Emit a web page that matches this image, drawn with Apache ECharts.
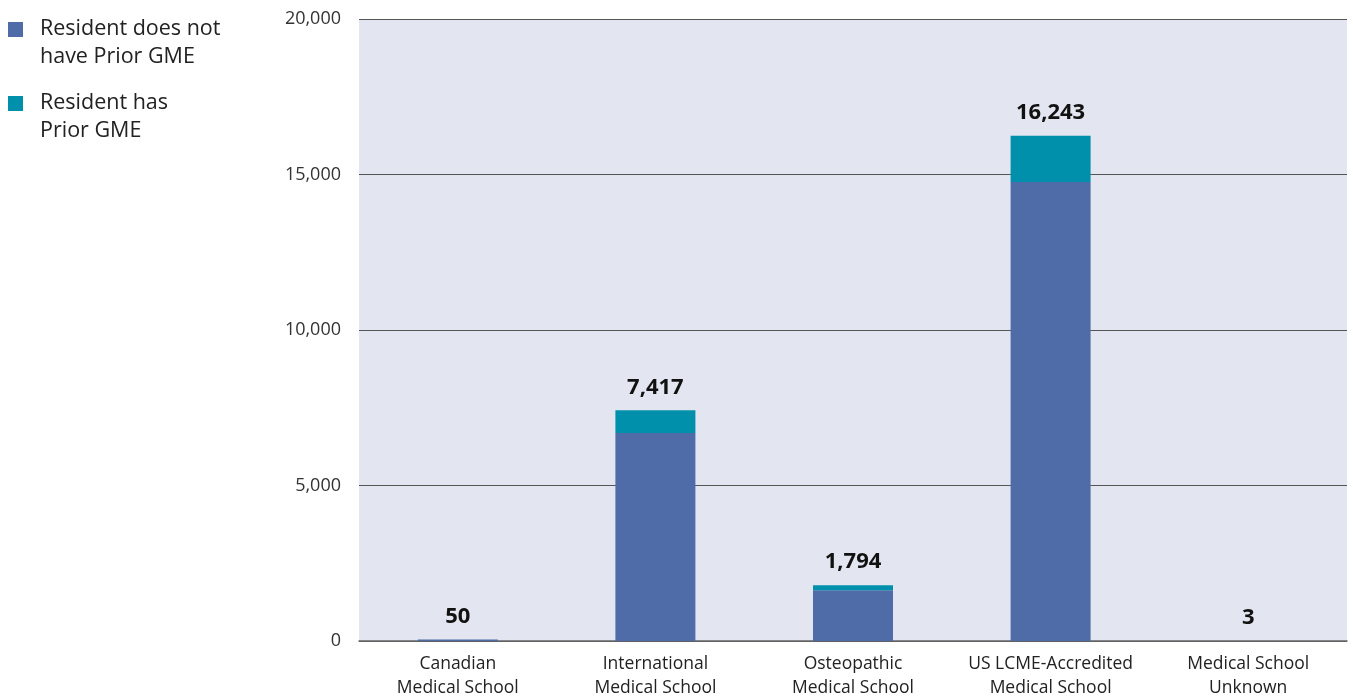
<!DOCTYPE html>
<html><head><meta charset="utf-8">
<script src="https://cdn.jsdelivr.net/npm/echarts@6/dist/echarts.min.js"></script>
<style>html,body{margin:0;padding:0;background:#fff}#c{width:1353px;height:698px}</style>
</head><body><div id="c"></div>
<script>
const categories = ['Canadian\nMedical School','International\nMedical School','Osteopathic\nMedical School','US LCME-Accredited\nMedical School','Medical School\nUnknown'];
const seriesNames = ['Resident does not have Prior GME', 'Resident has Prior GME'];
const legendLabels = ['Resident does not\nhave Prior GME', 'Resident has\nPrior GME'];
const colors = ['#4f6ca8', '#0090ab'];
const noPriorGME = [50, 6690, 1634, 14760, 3];
const hasPriorGME = [0, 727, 160, 1483, 0];
const totals = [50, 7417, 1794, 16243, 3];
const yTicks = [0, 5000, 10000, 15000, 20000];
const FONT = '"Open Sans", Roboto, "Liberation Sans", sans-serif';

const legendGraphic = [];
legendLabels.forEach((t, i) => {
  const y0 = 22 + i * 74;
  legendGraphic.push({type: 'rect', left: 8, top: y0, shape: {width: 15, height: 15}, style: {fill: colors[i]}});
  legendGraphic.push({type: 'text', left: 40, top: y0 - 7, style: {text: t, fontSize: 21.5, lineHeight: 28, fill: '#222', fontFamily: FONT}});
});

const chart = echarts.init(document.getElementById('c'));
chart.setOption({
  animation: false,
  textStyle: {fontFamily: FONT},
  graphic: legendGraphic,
  grid: {left: 359, right: 6, top: 19, bottom: 57, backgroundColor: '#e3e5f0', show: true, borderWidth: 0, outerBoundsMode: 'none', containLabel: false},
  xAxis: {
    type: 'category', data: categories,
    axisLine: {lineStyle: {color: '#666', width: 1.5}},
    axisTick: {show: false},
    axisLabel: {interval: 0, hideOverlap: false, fontSize: 17.5, color: '#222', lineHeight: 24, margin: 11}
  },
  yAxis: {
    type: 'value', min: yTicks[0], max: yTicks[yTicks.length-1], interval: 5000,
    axisLine: {show: false}, axisTick: {show: false},
    splitLine: {lineStyle: {color: '#555', width: 1}},
    axisLabel: {fontSize: 18, color: '#333', margin: 18, formatter: v => v.toLocaleString('en-US')}
  },
  series: [
    {name: seriesNames[0], type: 'bar', stack: 's', barWidth: 80,
     itemStyle: {color: colors[0]}, data: noPriorGME},
    {name: seriesNames[1], type: 'bar', stack: 's', barWidth: 80,
     itemStyle: {color: colors[1]}, data: hasPriorGME,
     label: {show: true, position: 'top', distance: 12, fontSize: 22, fontWeight: 'bold', color: '#111',
       formatter: p => totals[p.dataIndex].toLocaleString('en-US')}}
  ]
});
</script></body></html>
